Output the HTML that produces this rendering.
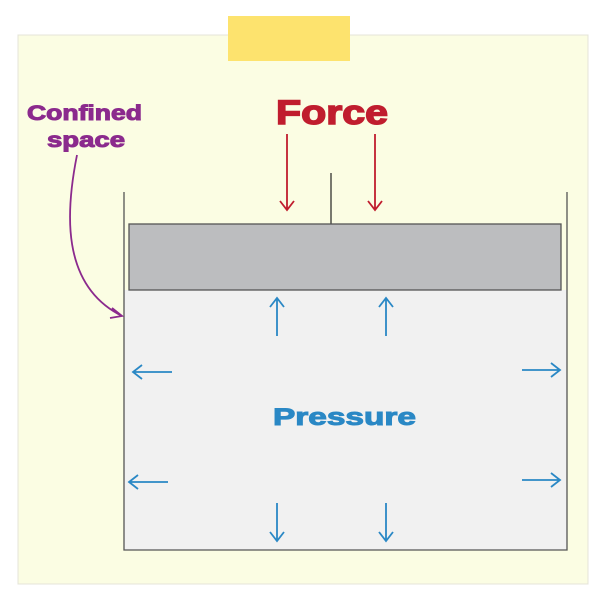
<!DOCTYPE html>
<html><head><style>
body{margin:0;background:#fff;}
svg{display:block;}
text{font-family:"Liberation Sans",sans-serif;font-weight:bold;}
</style></head><body>
<svg width="601" height="601" viewBox="0 0 601 601">
<rect x="18" y="35" width="570" height="549" fill="#fbfde3" stroke="#e4e4d8" stroke-width="1"/>
<rect x="228" y="16" width="122" height="45" fill="#fde36e"/>
<rect x="124" y="290" width="443" height="260" fill="#f1f1f1"/>
<path d="M124 192 V550 H567 V192" fill="none" stroke="#555" stroke-width="1.3"/>
<line x1="331" y1="173" x2="331" y2="224" stroke="#222" stroke-width="1.2"/>
<rect x="129" y="224" width="432" height="66" fill="#bcbdbf" stroke="#555" stroke-width="1.3"/>
<text x="276" y="124" font-size="34" fill="#c01d2e" stroke="#c01d2e" stroke-width="1.5" textLength="112" lengthAdjust="spacingAndGlyphs">Force</text>
<g stroke="#c01d2e" stroke-width="1.8" fill="none">
<path d="M287 134 V210 M280 201 L287 210 L294 201"/>
<path d="M375 134 V210 M368 201 L375 210 L382 201"/>
</g>
<text x="27" y="120" font-size="21" fill="#8b2a8d" stroke="#8b2a8d" stroke-width="1" textLength="115" lengthAdjust="spacingAndGlyphs">Confined</text>
<text x="47" y="147" font-size="21" fill="#8b2a8d" stroke="#8b2a8d" stroke-width="1" textLength="78" lengthAdjust="spacingAndGlyphs">space</text>
<path d="M77 155 C66 210,60 285,122 316 M112 308 L122 316 L110 318" stroke="#8b2a8d" stroke-width="1.8" fill="none"/>
<text x="273" y="425" font-size="24" fill="#2a88c5" stroke="#2a88c5" stroke-width="1" textLength="143" lengthAdjust="spacingAndGlyphs">Pressure</text>
<g stroke="#2a88c5" stroke-width="1.8" fill="none">
<path d="M277 336 V298 M270 307 L277 298 L284 307"/>
<path d="M386 336 V298 M379 307 L386 298 L393 307"/>
<path d="M277 503 V541 M270 532 L277 541 L284 532"/>
<path d="M386 503 V541 M379 532 L386 541 L393 532"/>
<path d="M172 372 H133 M142 365 L133 372 L142 379"/>
<path d="M168 482 H129 M138 475 L129 482 L138 489"/>
<path d="M522 370 H560 M551 363 L560 370 L551 377"/>
<path d="M522 480 H560 M551 473 L560 480 L551 487"/>
</g>
</svg>
</body></html>
